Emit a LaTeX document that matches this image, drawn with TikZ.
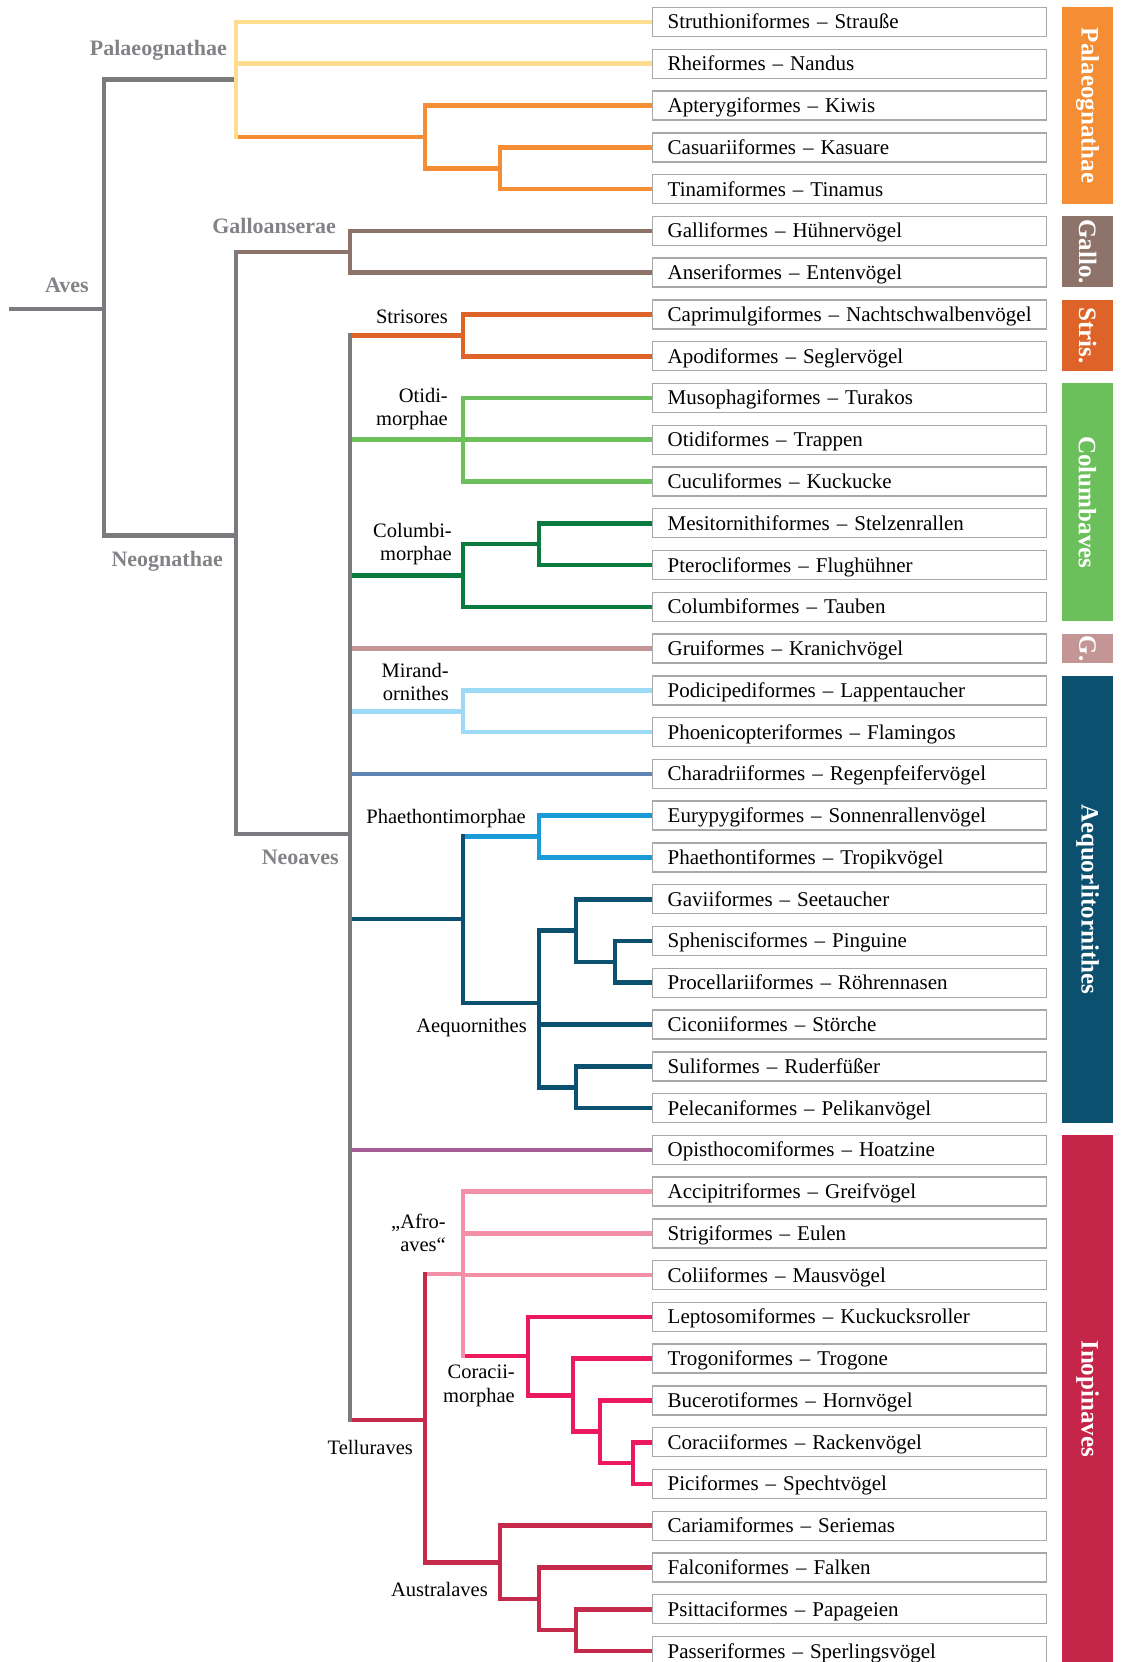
\documentclass[tikz,border=0pt]{standalone}
\usepackage{fontspec}
\setmainfont{Liberation Serif}

\definecolor{aviangrey}{HTML}{7A7B7F}
\definecolor{labelgrey}{HTML}{838387}
\definecolor{boxgrey}{HTML}{A8A8A8}
\definecolor{ratiteyellow}{HTML}{FFDD8E}
\definecolor{palaeoorange}{HTML}{F48D33}
\definecolor{gallobrown}{HTML}{8E736B}
\definecolor{strisred}{HTML}{DE6329}
\definecolor{otidigreen}{HTML}{6CC05C}
\definecolor{columbigreen}{HTML}{0B7A3E}
\definecolor{gruirose}{HTML}{C49595}
\definecolor{mirandblue}{HTML}{9DDAF6}
\definecolor{charadriiblue}{HTML}{5F86B2}
\definecolor{phaethonblue}{HTML}{1A9AD7}
\definecolor{aequorteal}{HTML}{0C506F}
\definecolor{opisthopurple}{HTML}{A45E93}
\definecolor{afropink}{HTML}{F38FA7}
\definecolor{coraciimagenta}{HTML}{EC195E}
\definecolor{tellurred}{HTML}{C62A4B}
\definecolor{inopinred}{HTML}{C42548}

\begin{document}
\begin{tikzpicture}[x=1pt, y=-1pt,
  edge/.style={line width=4.6pt},
  bar/.style={line width=4.6pt, line cap=rect},
  taxon/.style={draw=boxgrey, line width=1.4pt, fill=white, anchor=west,
    text width=364pt, inner xsep=15pt, inner ysep=0pt, minimum height=29pt,
    text height=18pt, text depth=4pt, align=left, font=\fontsize{21}{25}\selectfont},
  clade/.style={anchor=east, inner sep=0pt, align=right, font=\fontsize{20.5}{23.5}\selectfont},
  group/.style={anchor=east, inner sep=0pt, text=labelgrey, font=\bfseries\fontsize{22}{26}\selectfont},
  sidetext/.style={text=white, rotate=-90, font=\bfseries\fontsize{25}{30}\selectfont}]
  \useasboundingbox (0,0) rectangle (1120,1662);
  \clip (0,0) rectangle (1120,1662);

  % orders
  \node[taxon] (struthio) at (652,22) {Struthioniformes – Strauße};
  \node[taxon] (rhea) at (652,63.8) {Rheiformes – Nandus};
  \node[taxon] (apteryx) at (652,105.5) {Apterygiformes – Kiwis};
  \node[taxon] (casuarius) at (652,147.3) {Casuariiformes – Kasuare};
  \node[taxon] (tinamus) at (652,189.1) {Tinamiformes – Tinamus};
  \node[taxon] (gallus) at (652,230.9) {Galliformes – Hühnervögel};
  \node[taxon] (anser) at (652,272.6) {Anseriformes – Entenvögel};
  \node[taxon] (caprimulgus) at (652,314.4) {Caprimulgiformes – Nachtschwalbenvögel};
  \node[taxon] (apus) at (652,356.2) {Apodiformes – Seglervögel};
  \node[taxon] (musophaga) at (652,397.9) {Musophagiformes – Turakos};
  \node[taxon] (otis) at (652,439.7) {Otidiformes – Trappen};
  \node[taxon] (cuculus) at (652,481.5) {Cuculiformes – Kuckucke};
  \node[taxon] (mesitornis) at (652,523.2) {Mesitornithiformes – Stelzenrallen};
  \node[taxon] (pterocles) at (652,565) {Pterocliformes – Flughühner};
  \node[taxon] (columba) at (652,606.8) {Columbiformes – Tauben};
  \node[taxon] (grus) at (652,648.6) {Gruiformes – Kranichvögel};
  \node[taxon] (podiceps) at (652,690.3) {Podicipediformes – Lappentaucher};
  \node[taxon] (phoenicopterus) at (652,732.1) {Phoenicopteriformes – Flamingos};
  \node[taxon] (charadrius) at (652,773.9) {Charadriiformes – Regenpfeifervögel};
  \node[taxon] (eurypyga) at (652,815.6) {Eurypygiformes – Sonnenrallenvögel};
  \node[taxon] (phaethon) at (652,857.4) {Phaethontiformes – Tropikvögel};
  \node[taxon] (gavia) at (652,899.2) {Gaviiformes – Seetaucher};
  \node[taxon] (spheniscus) at (652,940.9) {Sphenisciformes – Pinguine};
  \node[taxon] (procellaria) at (652,982.7) {Procellariiformes – Röhrennasen};
  \node[taxon] (ciconia) at (652,1024.5) {Ciconiiformes – Störche};
  \node[taxon] (sula) at (652,1066.3) {Suliformes – Ruderfüßer};
  \node[taxon] (pelecanus) at (652,1108) {Pelecaniformes – Pelikanvögel};
  \node[taxon] (opisthocomus) at (652,1149.8) {Opisthocomiformes – Hoatzine};
  \node[taxon] (accipiter) at (652,1191.6) {Accipitriformes – Greifvögel};
  \node[taxon] (strix) at (652,1233.3) {Strigiformes – Eulen};
  \node[taxon] (colius) at (652,1275.1) {Coliiformes – Mausvögel};
  \node[taxon] (leptosomus) at (652,1316.9) {Leptosomiformes – Kuckucksroller};
  \node[taxon] (trogon) at (652,1358.6) {Trogoniformes – Trogone};
  \node[taxon] (buceros) at (652,1400.4) {Bucerotiformes – Hornvögel};
  \node[taxon] (coracias) at (652,1442.2) {Coraciiformes – Rackenvögel};
  \node[taxon] (picus) at (652,1483.9) {Piciformes – Spechtvögel};
  \node[taxon] (cariama) at (652,1525.7) {Cariamiformes – Seriemas};
  \node[taxon] (falco) at (652,1567.5) {Falconiformes – Falken};
  \node[taxon] (psittacus) at (652,1609.2) {Psittaciformes – Papageien};
  \node[taxon] (passer) at (652,1651) {Passeriformes – Sperlingsvögel};

  % branching points
  \coordinate (root) at (9,309);
  \coordinate (aves) at (104,309);
  \coordinate (palaeognathae) at (236,79.4);
  \coordinate (notopalaeo) at (425,136.9);
  \coordinate (kasutina) at (500,168.2);
  \coordinate (neognathae) at (236,535.7);
  \coordinate (galloanserae) at (350,251.8);
  \coordinate (neoaves) at (350,834);
  \coordinate (strisores) at (463,335.3);
  \coordinate (otidimorphae) at (463,439.7);
  \coordinate (columbimorphae) at (463,575.5);
  \coordinate (mesiptero) at (539,544.1);
  \coordinate (mirandornithes) at (463,711.2);
  \coordinate (ardeae) at (463,919);
  \coordinate (phaethontimorphae) at (539,836.5);
  \coordinate (aequornithes) at (539,1003);
  \coordinate (gavipro) at (576,930.5);
  \coordinate (spheproc) at (615,961.8);
  \coordinate (sulipele) at (576,1087.2);
  \coordinate (telluraves) at (425,1420);
  \coordinate (afroaves) at (463,1273.8);
  \coordinate (coraciimorphae) at (528,1356);
  \coordinate (trogrest) at (573,1395.2);
  \coordinate (bucrest) at (600,1431.7);
  \coordinate (coracpici) at (633,1463);
  \coordinate (australaves) at (500,1562.3);
  \coordinate (falcrest) at (539,1598.8);
  \coordinate (psitpass) at (576,1630.1);

  % Aves
  \draw[edge, aviangrey] (root) -- (aves);
  \draw[edge, aviangrey] (aves |- palaeognathae) -- (palaeognathae);
  \draw[edge, aviangrey] (aves |- neognathae) -- (neognathae);
  \draw[bar, aviangrey] (aves |- palaeognathae) -- (aves |- neognathae);

  % Palaeognathae
  \draw[edge, ratiteyellow] (palaeognathae |- struthio.west) -- (struthio.west);
  \draw[edge, ratiteyellow] (palaeognathae |- rhea.west) -- (rhea.west);
  \draw[edge, palaeoorange] (palaeognathae |- notopalaeo) -- (notopalaeo);
  \draw[bar, ratiteyellow] (palaeognathae |- struthio.west) -- (palaeognathae |- notopalaeo);
  \draw[edge, palaeoorange] (notopalaeo |- apteryx.west) -- (apteryx.west);
  \draw[edge, palaeoorange] (notopalaeo |- kasutina) -- (kasutina);
  \draw[bar, palaeoorange] (notopalaeo |- apteryx.west) -- (notopalaeo |- kasutina);
  \draw[edge, palaeoorange] (kasutina |- casuarius.west) -- (casuarius.west);
  \draw[edge, palaeoorange] (kasutina |- tinamus.west) -- (tinamus.west);
  \draw[bar, palaeoorange] (kasutina |- casuarius.west) -- (kasutina |- tinamus.west);

  % Neognathae
  \draw[edge, gallobrown] (neognathae |- galloanserae) -- (galloanserae);
  \draw[edge, aviangrey] (neognathae |- neoaves) -- (neoaves);
  \draw[bar, aviangrey] (neognathae |- galloanserae) -- (neognathae |- neoaves);
  \draw[edge, gallobrown] (galloanserae |- gallus.west) -- (gallus.west);
  \draw[edge, gallobrown] (galloanserae |- anser.west) -- (anser.west);
  \draw[bar, gallobrown] (galloanserae |- gallus.west) -- (galloanserae |- anser.west);

  % Neoaves
  \draw[edge, strisred] (neoaves |- strisores) -- (strisores);
  \draw[edge, otidigreen] (neoaves |- otidimorphae) -- (otidimorphae);
  \draw[edge, columbigreen] (neoaves |- columbimorphae) -- (columbimorphae);
  \draw[edge, gruirose] (neoaves |- grus.west) -- (grus.west);
  \draw[edge, mirandblue] (neoaves |- mirandornithes) -- (mirandornithes);
  \draw[edge, charadriiblue] (neoaves |- charadrius.west) -- (charadrius.west);
  \draw[edge, aequorteal] (neoaves |- ardeae) -- (ardeae);
  \draw[edge, opisthopurple] (neoaves |- opisthocomus.west) -- (opisthocomus.west);
  \draw[edge, tellurred] (neoaves |- telluraves) -- (telluraves);
  \draw[bar, aviangrey] (neoaves |- strisores) -- (neoaves |- telluraves);

  \draw[edge, strisred] (strisores |- caprimulgus.west) -- (caprimulgus.west);
  \draw[edge, strisred] (strisores |- apus.west) -- (apus.west);
  \draw[bar, strisred] (strisores |- caprimulgus.west) -- (strisores |- apus.west);

  \draw[edge, otidigreen] (otidimorphae |- musophaga.west) -- (musophaga.west);
  \draw[edge, otidigreen] (otidimorphae |- otis.west) -- (otis.west);
  \draw[edge, otidigreen] (otidimorphae |- cuculus.west) -- (cuculus.west);
  \draw[bar, otidigreen] (otidimorphae |- musophaga.west) -- (otidimorphae |- cuculus.west);

  \draw[edge, columbigreen] (columbimorphae |- mesiptero) -- (mesiptero);
  \draw[edge, columbigreen] (columbimorphae |- columba.west) -- (columba.west);
  \draw[bar, columbigreen] (columbimorphae |- mesiptero) -- (columbimorphae |- columba.west);
  \draw[edge, columbigreen] (mesiptero |- mesitornis.west) -- (mesitornis.west);
  \draw[edge, columbigreen] (mesiptero |- pterocles.west) -- (pterocles.west);
  \draw[bar, columbigreen] (mesiptero |- mesitornis.west) -- (mesiptero |- pterocles.west);

  \draw[edge, mirandblue] (mirandornithes |- podiceps.west) -- (podiceps.west);
  \draw[edge, mirandblue] (mirandornithes |- phoenicopterus.west) -- (phoenicopterus.west);
  \draw[bar, mirandblue] (mirandornithes |- podiceps.west) -- (mirandornithes |- phoenicopterus.west);

  % Phaethontimorphae and Aequornithes
  \draw[edge, phaethonblue] (ardeae |- phaethontimorphae) -- (phaethontimorphae);
  \draw[edge, aequorteal] (ardeae |- aequornithes) -- (aequornithes);
  \draw[bar, aequorteal] (ardeae |- phaethontimorphae) -- (ardeae |- aequornithes);
  \draw[edge, phaethonblue] (phaethontimorphae |- eurypyga.west) -- (eurypyga.west);
  \draw[edge, phaethonblue] (phaethontimorphae |- phaethon.west) -- (phaethon.west);
  \draw[bar, phaethonblue] (phaethontimorphae |- eurypyga.west) -- (phaethontimorphae |- phaethon.west);
  \draw[edge, aequorteal] (aequornithes |- gavipro) -- (gavipro);
  \draw[edge, aequorteal] (aequornithes |- ciconia.west) -- (ciconia.west);
  \draw[edge, aequorteal] (aequornithes |- sulipele) -- (sulipele);
  \draw[bar, aequorteal] (aequornithes |- gavipro) -- (aequornithes |- sulipele);
  \draw[edge, aequorteal] (gavipro |- gavia.west) -- (gavia.west);
  \draw[edge, aequorteal] (gavipro |- spheproc) -- (spheproc);
  \draw[bar, aequorteal] (gavipro |- gavia.west) -- (gavipro |- spheproc);
  \draw[edge, aequorteal] (spheproc |- spheniscus.west) -- (spheniscus.west);
  \draw[edge, aequorteal] (spheproc |- procellaria.west) -- (procellaria.west);
  \draw[bar, aequorteal] (spheproc |- spheniscus.west) -- (spheproc |- procellaria.west);
  \draw[edge, aequorteal] (sulipele |- sula.west) -- (sula.west);
  \draw[edge, aequorteal] (sulipele |- pelecanus.west) -- (pelecanus.west);
  \draw[bar, aequorteal] (sulipele |- sula.west) -- (sulipele |- pelecanus.west);

  % Telluraves
  \draw[edge, afropink] (telluraves |- afroaves) -- (afroaves);
  \draw[edge, tellurred] (telluraves |- australaves) -- (australaves);
  \draw[bar, tellurred] (telluraves |- afroaves) -- (telluraves |- australaves);

  \draw[edge, afropink] (afroaves |- accipiter.west) -- (accipiter.west);
  \draw[edge, afropink] (afroaves |- strix.west) -- (strix.west);
  \draw[edge, afropink] (afroaves |- colius.west) -- (colius.west);
  \draw[edge, coraciimagenta] (afroaves |- coraciimorphae) -- (coraciimorphae);
  \draw[bar, afropink] (afroaves |- accipiter.west) -- (afroaves |- coraciimorphae);

  \draw[edge, coraciimagenta] (coraciimorphae |- leptosomus.west) -- (leptosomus.west);
  \draw[edge, coraciimagenta] (coraciimorphae |- trogrest) -- (trogrest);
  \draw[bar, coraciimagenta] (coraciimorphae |- leptosomus.west) -- (coraciimorphae |- trogrest);
  \draw[edge, coraciimagenta] (trogrest |- trogon.west) -- (trogon.west);
  \draw[edge, coraciimagenta] (trogrest |- bucrest) -- (bucrest);
  \draw[bar, coraciimagenta] (trogrest |- trogon.west) -- (trogrest |- bucrest);
  \draw[edge, coraciimagenta] (bucrest |- buceros.west) -- (buceros.west);
  \draw[edge, coraciimagenta] (bucrest |- coracpici) -- (coracpici);
  \draw[bar, coraciimagenta] (bucrest |- buceros.west) -- (bucrest |- coracpici);
  \draw[edge, coraciimagenta] (coracpici |- coracias.west) -- (coracias.west);
  \draw[edge, coraciimagenta] (coracpici |- picus.west) -- (picus.west);
  \draw[bar, coraciimagenta] (coracpici |- coracias.west) -- (coracpici |- picus.west);

  \draw[edge, tellurred] (australaves |- cariama.west) -- (cariama.west);
  \draw[edge, tellurred] (australaves |- falcrest) -- (falcrest);
  \draw[bar, tellurred] (australaves |- cariama.west) -- (australaves |- falcrest);
  \draw[edge, tellurred] (falcrest |- falco.west) -- (falco.west);
  \draw[edge, tellurred] (falcrest |- psitpass) -- (psitpass);
  \draw[bar, tellurred] (falcrest |- falco.west) -- (falcrest |- psitpass);
  \draw[edge, tellurred] (psitpass |- psittacus.west) -- (psittacus.west);
  \draw[edge, tellurred] (psitpass |- passer.west) -- (passer.west);
  \draw[bar, tellurred] (psitpass |- psittacus.west) -- (psitpass |- passer.west);

  % clade names
  \node[group] (aveslabel) at (89,285) {Aves};
  \node[group] (palaeolabel) at (227,50) {Palaeognathae};
  \node[group] (gallolabel) at (336,226) {Galloanserae};
  \node[group] (neognathlabel) at (223,561) {Neognathae};
  \node[group] (neoaveslabel) at (339,857) {Neoaves};
  \node[clade] (strislabel) at (448,317) {Strisores};
  \node[clade] (otidilabel) at (448,409) {Otidi-\\morphae};
  \node[clade] (columbilabel) at (452,544) {Columbi-\\morphae};
  \node[clade] (mirandlabel) at (449,682) {Mirand-\\ornithes};
  \node[clade] (phaethlabel) at (526,819) {Phaethontimorphae};
  \node[clade] (aequlabel) at (527,1028) {Aequornithes};
  \node[clade] (afrolabel) at (446,1233) {„Afro-\\aves“};
  \node[clade] (coraciilabel) at (515,1386) {Coracii-\\morphae};
  \node[clade] (tellurlabel) at (413,1447) {Telluraves};
  \node[clade] (australlabel) at (488,1589) {Australaves};

  % side bars
  \fill[palaeoorange] (1062,7.5) rectangle (1113,203.6) node [midway, sidetext] (palaeoside) {Palaeognathae};
  \fill[gallobrown] (1062,216.4) rectangle (1113,287.1) node [midway, sidetext] (galloside) {Gallo.};
  \fill[strisred] (1062,299.9) rectangle (1113,370.7) node [midway, sidetext] (strisside) {Stris.};
  \fill[otidigreen] (1062,383.4) rectangle (1113,621.3) node [midway, sidetext] (columbside) {Columbaves};
  \fill[gruirose] (1062,634.1) rectangle (1113,663.1) node [midway, sidetext] (gruiside) {G.};
  \fill[aequorteal] (1062,675.8) rectangle (1113,1122.5) node [midway, sidetext] (aequorside) {Aequorlitornithes};
  \fill[inopinred] (1062,1135.3) rectangle (1113,1662) node [midway, sidetext] (inopinside) {Inopinaves};
\end{tikzpicture}
\end{document}
